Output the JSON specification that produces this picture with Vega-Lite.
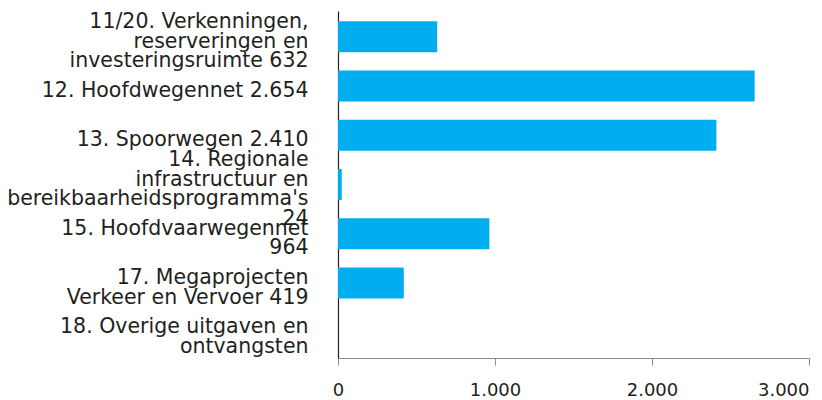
{
  "$schema": "https://vega.github.io/schema/vega-lite/v6.json",
  "width": 471,
  "height": 347,
  "autosize": "none",
  "padding": {"left": 338, "top": 11, "right": 13, "bottom": 42},
  "background": "white",
  "config": {"view": {"stroke": null}, "font": "DejaVu Sans"},
  "data": {
    "values": [
      {"label": "11/20. Verkenningen,\u00a0|reserveringen en|investeringsruimte 632", "value": 632},
      {"label": "12. Hoofdwegennet 2.654", "value": 2654},
      {"label": "13. Spoorwegen 2.410", "value": 2410},
      {"label": "14. Regionale|infrastructuur en|bereikbaarheidsprogramma's|24", "value": 24},
      {"label": "15. Hoofdvaarwegennet|964", "value": 964},
      {"label": "17. Megaprojecten\u00a0|Verkeer en Vervoer 419", "value": 419},
      {"label": "18. Overige uitgaven en|ontvangsten", "value": 0}
    ]
  },
  "mark": {"type": "bar", "color": "#00aeef"},
  "encoding": {
    "y": {
      "field": "label",
      "type": "nominal",
      "sort": null,
      "scale": {"paddingInner": 0.37, "paddingOuter": 0.21},
      "axis": {
        "title": null,
        "ticks": false,
        "grid": false,
        "domainColor": "#231f20",
        "domainWidth": 1.2,
        "labelExpr": "split(datum.label, '|')",
        "labelFont": "DejaVu Sans",
        "labelFontSize": 20.5,
        "labelLineHeight": 19.5,
        "labelColor": "#231f20",
        "labelPadding": 30,
        "labelOffset": {
          "condition": [
            {"test": "length(split(datum.label, '|')) == 4", "value": -24.25},
            {"test": "length(split(datum.label, '|')) == 3", "value": -14.5},
            {"test": "length(split(datum.label, '|')) == 2", "value": -4.75}
          ],
          "value": 5
        },
        "labelLimit": 400,
        "labelAlign": "right",
        "labelBaseline": "middle",
        "labelOverlap": false
      }
    },
    "x": {
      "field": "value",
      "type": "quantitative",
      "scale": {"domain": [0, 3000], "nice": false},
      "axis": {
        "title": null,
        "grid": false,
        "values": [0, 1000, 2000, 3000],
        "labelExpr": "replace(format(datum.value, ','), ',', '.')",
        "domainColor": "#8a8a8a",
        "domainWidth": 1.2,
        "tickColor": "#8a8a8a",
        "tickSize": 7,
        "labelFont": "DejaVu Sans",
        "labelFontSize": 18,
        "labelColor": "#231f20",
        "labelPadding": 16,
        "labelFlush": false,
        "labelOverlap": false,
        "labelBaseline": "top",
        "labelAlign": {"condition": {"test": "datum.value == 3000", "value": "right"}, "value": "center"}
      }
    }
  }
}
